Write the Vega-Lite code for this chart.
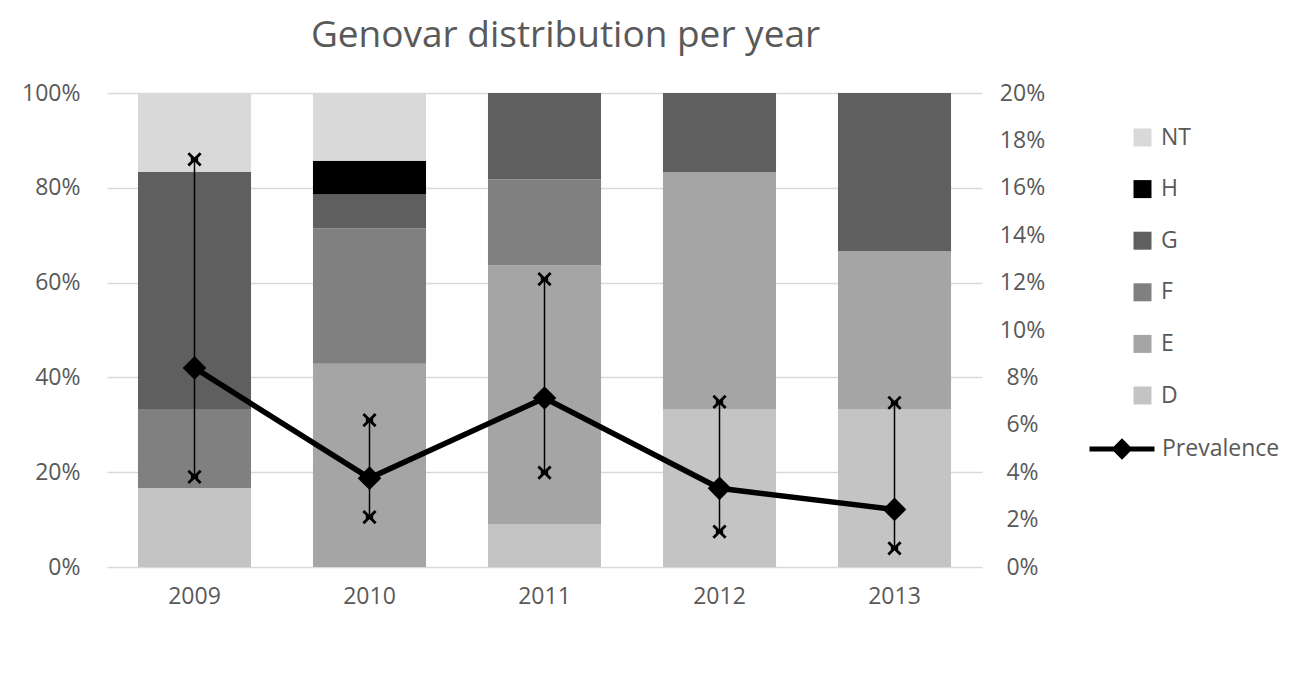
{
  "$schema": "https://vega.github.io/schema/vega-lite/v6.json",
  "autosize": {"type": "none"},
  "width": 875,
  "height": 474,
  "padding": {"left": 107, "top": 93, "right": 308, "bottom": 107},
  "background": "white",
  "config": {
    "font": "Open Sans",
    "view": {"stroke": null},
    "axis": {"labelColor": "#595959", "labelFontSize": 23, "domain": false, "ticks": false, "title": null}
  },
  "title": {
    "text": "Genovar distribution per year",
    "fontSize": 37,
    "fontWeight": "normal",
    "color": "#595959",
    "anchor": "middle",
    "frame": "group",
    "dx": 21,
    "offset": 27
  },
  "datasets": {
    "bars": [
      {"year": "2009", "genovar": "D", "count": 1},
      {"year": "2009", "genovar": "F", "count": 1},
      {"year": "2009", "genovar": "G", "count": 3},
      {"year": "2009", "genovar": "NT", "count": 1},
      {"year": "2010", "genovar": "E", "count": 6},
      {"year": "2010", "genovar": "F", "count": 4},
      {"year": "2010", "genovar": "G", "count": 1},
      {"year": "2010", "genovar": "H", "count": 1},
      {"year": "2010", "genovar": "NT", "count": 2},
      {"year": "2011", "genovar": "D", "count": 1},
      {"year": "2011", "genovar": "E", "count": 6},
      {"year": "2011", "genovar": "F", "count": 2},
      {"year": "2011", "genovar": "G", "count": 2},
      {"year": "2012", "genovar": "D", "count": 2},
      {"year": "2012", "genovar": "E", "count": 3},
      {"year": "2012", "genovar": "G", "count": 1},
      {"year": "2013", "genovar": "D", "count": 1},
      {"year": "2013", "genovar": "E", "count": 1},
      {"year": "2013", "genovar": "G", "count": 1}
    ],
    "prev": [
      {"year": "2009", "prev": 0.084, "lo": 0.038, "hi": 0.172},
      {"year": "2010", "prev": 0.0375, "lo": 0.021, "hi": 0.062},
      {"year": "2011", "prev": 0.0713, "lo": 0.0398, "hi": 0.1215},
      {"year": "2012", "prev": 0.0332, "lo": 0.0149, "hi": 0.0697},
      {"year": "2013", "prev": 0.0243, "lo": 0.0079, "hi": 0.0693}
    ]
  },
  "layer": [
    {
      "data": {"name": "bars"},
      "mark": {"type": "bar"},
      "encoding": {
        "x": {
          "field": "year",
          "type": "ordinal",
          "scale": {"paddingInner": 0.354, "paddingOuter": 0.177},
          "axis": {"labelAngle": 0, "labelPadding": 18}
        },
        "y": {
          "field": "count",
          "type": "quantitative",
          "stack": "normalize",
          "scale": {"domain": [0, 1]},
          "axis": {
            "values": [0, 0.2, 0.4, 0.6, 0.8, 1],
            "format": ".0%",
            "grid": true,
            "gridColor": "#d9d9d9",
            "gridWidth": 1.6,
            "labelPadding": 27
          }
        },
        "fill": {
          "field": "genovar",
          "type": "nominal",
          "scale": {
            "domain": ["NT", "H", "G", "F", "E", "D"],
            "range": ["#d9d9d9", "#000000", "#5f5f5f", "#808080", "#a5a5a5", "#c4c4c4"]
          },
          "legend": {
            "orient": "none",
            "legendX": 1024,
            "legendY": 33,
            "title": null,
            "padding": 0,
            "symbolType": "square",
            "symbolSize": 324,
            "symbolStrokeWidth": 0,
            "labelFontSize": 23,
            "labelColor": "#595959",
            "labelOffset": 7,
            "rowPadding": 27.6
          }
        },
        "order": {"field": "genovar", "sort": "ascending"}
      }
    },
    {
      "data": {"name": "prev"},
      "layer": [
        {
          "mark": {"type": "rule", "color": "black", "strokeWidth": 1.5},
          "encoding": {
            "x": {"field": "year", "type": "ordinal"},
            "y": {
              "field": "lo",
              "type": "quantitative",
              "scale": {"domain": [0, 0.2]},
              "axis": {
                "orient": "right",
                "values": [0, 0.02, 0.04, 0.06, 0.08, 0.1, 0.12, 0.14, 0.16, 0.18, 0.2],
                "format": ".0%",
                "grid": false,
                "labelAlign": "center",
                "labelPadding": 40,
                "title": null
              }
            },
            "y2": {"field": "hi"}
          }
        },
        {
          "mark": {"type": "line", "strokeWidth": 5.5},
          "encoding": {
            "x": {"field": "year", "type": "ordinal"},
            "y": {"field": "prev", "type": "quantitative", "axis": {"title": null}},
            "stroke": {
              "datum": "Prevalence",
              "type": "nominal",
              "scale": {"range": ["black"]},
              "legend": {
                "orient": "none",
                "legendX": 980,
                "legendY": 321,
                "title": null,
                "padding": 0,
                "symbolType": "M-1,0L1,0M-0.22,0L0,-0.22L0.22,0L0,0.22Z",
                "symbolSize": 4225,
                "symbolStrokeWidth": 5,
                "symbolFillColor": "black",
                "symbolStrokeColor": "black",
                "labelFontSize": 23,
                "labelColor": "#595959",
                "labelOffset": 5
              }
            }
          }
        },
        {
          "mark": {"type": "point", "shape": "diamond", "filled": true, "size": 560, "color": "black", "opacity": 1},
          "encoding": {
            "x": {"field": "year", "type": "ordinal"},
            "y": {"field": "prev", "type": "quantitative", "axis": {"title": null}}
          }
        },
        {
          "mark": {"type": "point", "shape": "M-1,-1L1,1M1,-1L-1,1M-0.6,0L0.6,0", "filled": false, "size": 150, "strokeWidth": 2.8, "color": "black", "opacity": 1},
          "encoding": {
            "x": {"field": "year", "type": "ordinal"},
            "y": {"field": "lo", "type": "quantitative", "axis": {"title": null}}
          }
        },
        {
          "mark": {"type": "point", "shape": "M-1,-1L1,1M1,-1L-1,1M-0.6,0L0.6,0", "filled": false, "size": 150, "strokeWidth": 2.8, "color": "black", "opacity": 1},
          "encoding": {
            "x": {"field": "year", "type": "ordinal"},
            "y": {"field": "hi", "type": "quantitative", "axis": {"title": null}}
          }
        }
      ]
    }
  ],
  "resolve": {"scale": {"y": "independent", "stroke": "independent"}}
}
